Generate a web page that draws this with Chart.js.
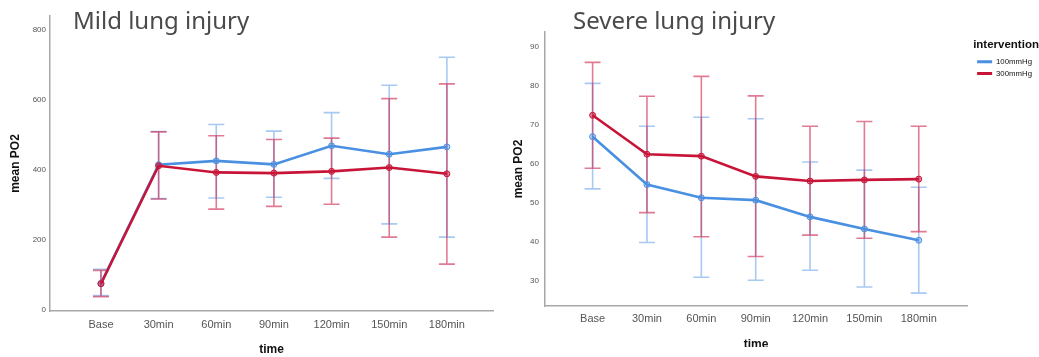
<!DOCTYPE html>
<html>
<head>
<meta charset="utf-8">
<script src="https://cdn.jsdelivr.net/npm/chart.js@4.4.1/dist/chart.umd.min.js"></script>
<style>
  body { margin: 0; background: #fff; width: 1039px; height: 357px; position: relative; overflow: hidden; }
  .panel-title { position: absolute; font-family: "Noto Sans", sans-serif; font-weight: 400; font-size: 24px; line-height: 30px; color: #4a4a4a; white-space: nowrap; }
  #leftWrap { position: absolute; left: 0; top: 0; width: 510px; height: 357px; }
  #rightWrap { position: absolute; left: 505px; top: 0; width: 534px; height: 347px; overflow: hidden; }
  canvas { display: block; }
</style>
</head>
<body>
<div id="leftWrap"><canvas id="mildChart" width="510" height="357"></canvas></div>
<div id="rightWrap"><canvas id="severeChart" width="560" height="357"></canvas></div>
<div class="panel-title" style="left:73px; top:5px;">Mild lung injury</div>
<div class="panel-title" style="left:573px; top:5px;">Severe lung injury</div>

<script>
// Datos
const timeLabels = ['Base', '30min', '60min', '90min', '120min', '150min', '180min'];
const seriesNames = ['100mmHg', '300mmHg'];

// Mild lung injury
const mild100Mean  = [76, 415, 426, 416, 469, 445, 466];
const mild100Upper = [116, 510, 530, 511, 564, 642, 722];
const mild100Lower = [41, 318, 320, 322, 376, 246, 208];
const mild300Mean  = [75, 412, 393, 391, 396, 407, 389];
const mild300Upper = [113, 509, 498, 487, 491, 604, 646];
const mild300Lower = [38, 317, 288, 296, 302, 208, 131];

// Severe lung injury
const severe100Mean  = [66.9, 54.6, 51.2, 50.6, 46.3, 43.2, 40.3];
const severe100Upper = [80.6, 69.6, 71.9, 71.5, 60.4, 58.3, 53.9];
const severe100Lower = [53.5, 39.7, 30.8, 30.0, 32.6, 28.3, 26.7];
const severe300Mean  = [72.4, 62.4, 61.9, 56.7, 55.5, 55.8, 56.0];
const severe300Upper = [86.0, 77.3, 82.4, 77.4, 69.6, 70.8, 69.6];
const severe300Lower = [58.8, 47.4, 41.2, 36.1, 41.6, 40.8, 42.5];

// Colores
const blueLine = 'rgb(74,144,226)';
const redLine = 'rgb(200,20,55)';
const blueErr = 'rgba(110,165,232,0.6)';
const redErr = 'rgba(205,35,75,0.6)';

const tickFont = { family: '"Liberation Sans", Arial, sans-serif' };

// Plugin para dibujar las barras de error con las escalas del chart
const errorBars = {
  id: 'errorBars',
  beforeDatasetsDraw(chart) {
    const { ctx, scales: { x, y } } = chart;
    chart.data.datasets.forEach((ds) => {
      ctx.save();
      ctx.strokeStyle = ds.errorColor;
      ctx.lineWidth = 1.6;
      ds.upper.forEach((u, i) => {
        const px = x.getPixelForValue(i);
        const top = y.getPixelForValue(u);
        const bot = y.getPixelForValue(ds.lower[i]);
        ctx.beginPath();
        ctx.moveTo(px, top); ctx.lineTo(px, bot);
        ctx.moveTo(px - 8, top); ctx.lineTo(px + 8, top);
        ctx.moveTo(px - 8, bot); ctx.lineTo(px + 8, bot);
        ctx.stroke();
      });
      ctx.restore();
    });
  }
};

// Corre la leyenda un poco a la derecha sin mover el área del gráfico
const legendShift = {
  id: 'legendShift',
  afterLayout(chart) {
    if (chart.legend) {
      chart.legend.left += 6;
      chart.legend.right += 6;
    }
  }
};

function makeDataset(label, mean, upper, lower, color, errColor, fill, order) {
  return {
    label: label,
    data: mean.map((v, i) => ({ x: i, y: v })),
    upper: upper,
    lower: lower,
    errorColor: errColor,
    order: order,
    borderColor: color,
    backgroundColor: color,
    borderWidth: 2.6,
    pointRadius: 3,
    pointBorderWidth: 1,
    pointBackgroundColor: fill,
    pointBorderColor: color,
    tension: 0
  };
}

function xScale(min, max, height, pad, titlePad) {
  return {
    type: 'linear', min: min, max: max,
    afterFit: (s) => { s.height = height; },
    afterBuildTicks: (s) => { s.ticks = timeLabels.map((t, i) => ({ value: i })); },
    grid: { display: false, drawTicks: false },
    border: { color: '#a8a8a8', width: 1.5 },
    ticks: { padding: pad, color: '#555', maxRotation: 0, minRotation: 0, autoSkip: false,
             font: { ...tickFont, size: 11 }, callback: (v) => timeLabels[v] },
    title: { display: true, text: 'time', color: '#111', padding: { top: 0, bottom: titlePad },
             font: { ...tickFont, size: 12, weight: 'bold' } }
  };
}

function yScale(min, max, step, width, pad, titlePad) {
  return {
    min: min, max: max,
    afterFit: (s) => { s.width = width; },
    afterBuildTicks: (s) => {
      const ticks = [];
      for (let v = Math.ceil(min / step) * step; v <= max; v += step) ticks.push({ value: v });
      s.ticks = ticks;
    },
    grid: { display: false, drawTicks: false },
    border: { color: '#a8a8a8', width: 1.5 },
    ticks: { stepSize: step, padding: pad, color: '#555', font: { ...tickFont, size: 8 } },
    title: { display: true, text: 'mean PO2', color: '#111', padding: { top: titlePad, bottom: 0 },
             font: { ...tickFont, size: 12, weight: 'bold' } }
  };
}

// Mild
new Chart(document.querySelector('#mildChart'), {
  type: 'line',
  data: {
    datasets: [
      makeDataset(seriesNames[0], mild100Mean, mild100Upper, mild100Lower, blueLine, blueErr, 'rgba(74,144,226,0.4)', 1),
      makeDataset(seriesNames[1], mild300Mean, mild300Upper, mild300Lower, redLine, redErr, 'rgba(200,20,55,0.5)', 0)
    ]
  },
  options: {
    responsive: false, animation: false,
    layout: { padding: { top: 16, right: 17, left: 0, bottom: 0 } },
    plugins: { legend: { display: false }, tooltip: { enabled: false } },
    scales: {
      x: xScale(-0.884, 6.80, 46, 7, 0),
      y: yScale(-3, 840, 200, 50, 4, 8)
    }
  },
  plugins: [errorBars]
});

// Severe (con leyenda)
new Chart(document.querySelector('#severeChart'), {
  type: 'line',
  data: {
    datasets: [
      makeDataset(seriesNames[0], severe100Mean, severe100Upper, severe100Lower, blueLine, blueErr, 'rgba(74,144,226,0.4)', 1),
      makeDataset(seriesNames[1], severe300Mean, severe300Upper, severe300Lower, redLine, redErr, 'rgba(200,20,55,0.5)', 0)
    ]
  },
  options: {
    responsive: false, animation: false,
    layout: { padding: { top: 32, right: 29, left: 0, bottom: 0 } },
    plugins: {
      tooltip: { enabled: false },
      legend: {
        position: 'right', align: 'start',
        title: { display: true, text: 'intervention', color: '#111', position: 'start',
                 padding: { top: 7, bottom: 1 }, font: { ...tickFont, size: 11.5, weight: 'bold' } },
        labels: {
          boxWidth: 15, boxHeight: 3, padding: 4, color: '#333', font: { ...tickFont, size: 7.8 },
          generateLabels: (chart) => chart.data.datasets.map((ds, i) => ({
            text: ds.label, fillStyle: ds.borderColor, strokeStyle: ds.borderColor, lineWidth: 0, datasetIndex: i
          }))
        }
      }
    },
    scales: {
      x: xScale(-0.876, 6.89, 51, 6, 5),
      y: yScale(23.4, 93.8, 10, 40, 6, 6)
    }
  },
  plugins: [errorBars, legendShift]
});
</script>
</body>
</html>
